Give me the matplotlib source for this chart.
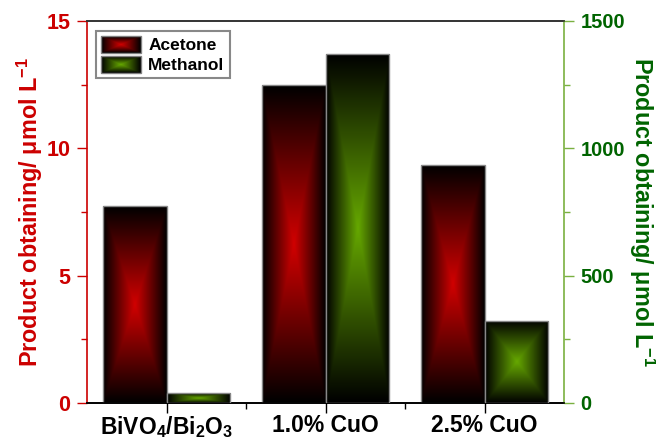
import numpy as np
import matplotlib
matplotlib.use('Agg')
import matplotlib.pyplot as plt
from matplotlib.legend_handler import HandlerBase
from matplotlib.image import BboxImage
from matplotlib.transforms import Bbox, TransformedBbox
from matplotlib.patches import Rectangle
from matplotlib.ticker import MultipleLocator

categories = ['BiVO$_4$/Bi$_2$O$_3$', '1.0% CuO', '2.5% CuO']
acetone = [7.72, 12.48, 9.35]      # left axis, µmol/L
methanol = [38, 1372, 322]         # right axis, µmol/L
series_names = ['Acetone', 'Methanol']

plt.rcParams['font.family'] = ['Liberation Sans', 'DejaVu Sans']
plt.rcParams['font.weight'] = 'bold'
plt.rcParams['axes.labelweight'] = 'bold'
plt.rcParams['mathtext.default'] = 'regular'

RED = (0.82, 0.0, 0.0)
GREEN = (0.40, 0.66, 0.0)
RED_TXT = '#cc0000'
GREEN_TXT = '#006400'
GREEN_SPINE = '#7ab040'


def pyramid(color, nx=200, ny=200, gamma=1.0):
    u = np.linspace(-1, 1, nx)
    v = np.linspace(-1, 1, ny)
    U, V = np.meshgrid(u, v)
    t = np.clip(1 - np.maximum(np.abs(U), np.abs(V)), 0, 1) ** gamma
    img = np.zeros((ny, nx, 3))
    for i in range(3):
        img[..., i] = color[i] * t
    return img


class HandlerGrad(HandlerBase):
    def __init__(self, color):
        super().__init__()
        self.color = color

    def create_artists(self, legend, orig_handle, xdescent, ydescent,
                       width, height, fontsize, trans):
        bb = Bbox.from_bounds(-xdescent, -ydescent, width, height)
        img = BboxImage(TransformedBbox(bb, trans), interpolation='bilinear')
        img.set_data(pyramid(self.color, 80, 40))
        rect = Rectangle((-xdescent, -ydescent), width, height, fill=False,
                         edgecolor='#808080', lw=1.0, transform=trans)
        return [img, rect]


fig = plt.figure(figsize=(6.56, 4.41), dpi=100)
ax = fig.add_axes([87/656, 1-403/441, (564-87)/656, (403-21)/441])
ax2 = ax.twinx()

x = np.arange(1, len(categories) + 1)
w = 0.4

bars1 = ax.bar(x - w/2, acetone, w, facecolor='none', edgecolor='#888888', lw=1.0, zorder=3)
bars2 = ax2.bar(x + w/2, methanol, w, facecolor='none', edgecolor='#888888', lw=1.0, zorder=3)

for axis, bars, col in ((ax, bars1, RED), (ax2, bars2, GREEN)):
    for b in bars:
        x0, y0 = b.get_x(), b.get_y()
        im = axis.imshow(pyramid(col), extent=[x0, x0 + b.get_width(), y0, y0 + b.get_height()],
                         aspect='auto', interpolation='bilinear', zorder=2)
        im.set_clip_path(b)

ax.set_xlim(0.5, 3.5)
ax.set_ylim(0, 15)
ax2.set_ylim(0, 1500)

ax.set_xticks(x)
ax.set_xticklabels(categories)
ax.set_xticks([1.5, 2.5], minor=True)
ax.yaxis.set_major_locator(MultipleLocator(5))
ax.yaxis.set_minor_locator(MultipleLocator(2.5))
ax2.yaxis.set_major_locator(MultipleLocator(500))
ax2.yaxis.set_minor_locator(MultipleLocator(250))

ax.tick_params(axis='x', which='major', length=7, width=1.0, labelsize=16.5, pad=1, colors='black')
ax.tick_params(axis='x', which='minor', length=4, width=1.0)
ax.tick_params(axis='y', which='major', length=7, width=1.0, labelsize=15.5, pad=5,
               color=RED_TXT, labelcolor=RED_TXT)
ax.tick_params(axis='y', which='minor', length=4, width=1.0, color=RED_TXT)
ax2.tick_params(axis='y', which='major', length=7, width=1.0, labelsize=14.5, pad=5,
                color=GREEN_SPINE, labelcolor=GREEN_TXT)
ax2.tick_params(axis='y', which='minor', length=4, width=1.0, color=GREEN_SPINE)

ax.spines['left'].set_color(RED_TXT)
ax.spines['right'].set_visible(False)
ax2.spines['left'].set_visible(False)
ax2.spines['right'].set_color(GREEN_SPINE)
ax2.spines['top'].set_color('#333333')
ax.spines['top'].set_color('#333333')
for a in (ax, ax2):
    for s in a.spines.values():
        s.set_linewidth(1.2)

ylab = 'Product obtaining/ \u03bcmol L$^{-1}$'
ax.set_ylabel(ylab, color=RED_TXT, fontsize=16.8, fontweight='bold', labelpad=1)
ax2.set_ylabel(ylab, color=GREEN_TXT, fontsize=16.8, fontweight='bold',
               rotation=270, labelpad=23)

h1 = Rectangle((0, 0), 1, 1)
h2 = Rectangle((0, 0), 1, 1)
leg = ax2.legend([h1, h2], series_names, loc='upper left',
                 bbox_to_anchor=(0.019, 0.974), fontsize=12.5,
                 handler_map={h1: HandlerGrad(RED), h2: HandlerGrad(GREEN)},
                 handlelength=2.3, handleheight=1.1, labelspacing=0.15,
                 handletextpad=0.4, borderpad=0.3, borderaxespad=0.0,
                 fancybox=False, framealpha=1, edgecolor='#888888')
leg.get_frame().set_linewidth(1.5)

fig.savefig('out.png', dpi=100)
